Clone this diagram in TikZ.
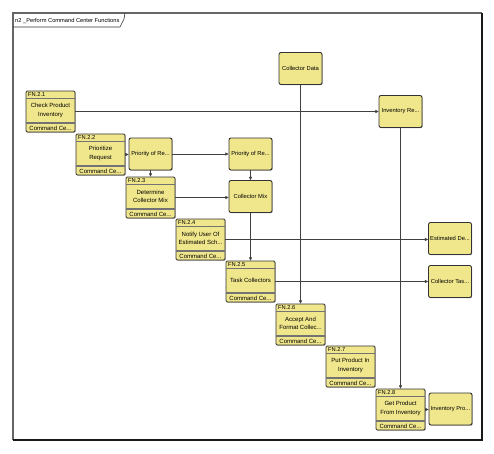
\documentclass[tikz,border=0pt]{standalone}
\usepackage{fontspec}
\setmainfont{Liberation Sans}
\usetikzlibrary{arrows.meta,shadows}
\definecolor{boxfill}{HTML}{F0E68C}
\definecolor{boxline}{HTML}{333333}
\definecolor{conn}{HTML}{404040}
\tikzset{
  fnb/.style={draw=boxline, fill=boxfill, line width=0.9pt, rounded corners=1.2pt,
    minimum width=49pt, minimum height=41pt, inner sep=0pt,
    drop shadow={shadow xshift=0.7pt, shadow yshift=-0.7pt, fill=black!60, opacity=0.7}},
  item/.style={draw=boxline, fill=boxfill, line width=0.9pt, rounded corners=2pt,
    minimum width=43pt, minimum height=32pt, inner sep=0pt,
    font=\fontsize{5.8}{7.5}\selectfont,
    drop shadow={shadow xshift=0.7pt, shadow yshift=-0.7pt, fill=black!60, opacity=0.7}},
  sepline/.style={draw=black!55, line width=0.6pt},
  footsep/.style={draw=black!55, line width=1.4pt},
  fnhead/.style={anchor=west, inner sep=0pt, font=\fontsize{5.7}{6}\selectfont},
  fntext/.style={align=center, inner sep=0pt, font=\fontsize{6}{8.2}\selectfont},
  fnfoot/.style={inner sep=0pt, font=\fontsize{6}{6}\selectfont},
  conn/.style={draw=conn, line width=0.6pt, -{Triangle[length=3.2pt,width=3.2pt]}},
}
\newcommand\fnbox[5]{%
  \node[fnb] (#1) at (#2+24.5,#3+20.5) {};
  \draw[sepline] (#2,#3+7) -- (#2+49,#3+7);
  \draw[footsep] (#2,#3+32) -- (#2+49,#3+32);
  \node[fnhead] (#1h) at (#2+2,#3+3.7) {#4};
  \node[fntext] (#1t) at (#2+24.5,#3+19.5) {#5};
  \node[fnfoot] (#1f) at (#2+24.5,#3+37) {Command Ce...};
}
\begin{document}
\begin{tikzpicture}[x=1pt,y=-1pt]
\useasboundingbox (0,0) rectangle (494,453);
% frame
\draw[line width=1.2pt, black!60] (13,440) -- (13,13) -- (482,13);
\draw[line width=1.2pt, black!90] (482,13) -- (482,440) -- (13,440);
\draw[line width=0.6pt, black!80] (13,27) -- (120,27) -- (124,19) -- (125,13);
\node[anchor=west, inner sep=0pt, font=\fontsize{5.7}{6}\selectfont] (title) at (15,20.5) {n2 \_Perform Command Center Functions};
% function boxes
\fnbox{f1}{26}{91}{FN.2.1}{Check Product\\Inventory}
\fnbox{f2}{76}{134}{FN.2.2}{Prioritize\\Request}
\fnbox{f3}{126}{177}{FN.2.3}{Determine\\Collector Mix}
\fnbox{f4}{176}{219}{FN.2.4}{Notify User Of\\Estimated Sch...}
\fnbox{f5}{226}{261}{FN.2.5}{Task Collectors}
\fnbox{f6}{276}{304}{FN.2.6}{Accept And\\Format Collec...}
\fnbox{f7}{326}{346}{FN.2.7}{Put Product In\\Inventory}
\fnbox{f8}{376}{389}{FN.2.8}{Get Product\\From Inventory}
% item boxes
\node[item] (p1) at (150.5,154) {Priority of Re...};
\node[item] (p2) at (250.5,154) {Priority of Re...};
\node[item] (cm) at (250.5,196.5) {Collector Mix};
\node[item] (cd) at (300.5,68.5) {Collector Data};
\node[item] (ir) at (400.5,111.5) {Inventory Re...};
\node[item] (ed) at (450,238.5) {Estimated De...};
\node[item] (ct) at (450,281.5) {Collector Tas...};
\node[item] (ip) at (450.5,409) {Inventory Pro...};
% connectors
\draw[conn] (f1.east) -- (f1.east -| ir.west);
\draw[conn] (f2.east) -- (f2.east -| p1.west);
\draw[conn] (p1.east) -- (p2.west);
\draw[conn] (p1.south) -- (f3.north);
\draw[conn] (p2.south) -- (cm.north);
\draw[conn] (f3.east) -- (f3.east -| cm.west);
\draw[conn] (cm.south) -- (f5.north);
\draw[conn] (f4.east) -- (f4.east -| ed.west);
\draw[conn] (f5.east) -- (f5.east -| ct.west);
\draw[conn] (cd.south) -- (f6.north);
\draw[conn] (ir.south) -- (f8.north);
\draw[conn] (f8.east) -- (f8.east -| ip.west);
\end{tikzpicture}
\end{document}
